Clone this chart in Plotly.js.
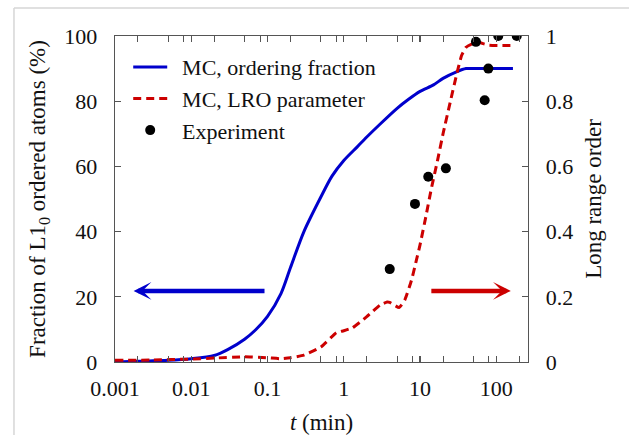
<!DOCTYPE html>
<html>
<head>
<meta charset="utf-8">
<script src="https://cdn.plot.ly/plotly-3.0.1.min.js"></script>
<style>html,body{margin:0;padding:0;background:#fff;}#chart{width:629px;height:435px;}</style>
</head>
<body>
<div id="chart"></div>
<script>
// MC, ordering fraction (left axis, %)
const tOrder = [0.001,0.002,0.005,0.01,0.02,0.03,0.05,0.07,0.1,0.15,0.2,0.3,0.5,0.7,1,1.5,2,3,5,7,10,15,20,30,40,50,70,100,165];
const orderFrac = [0,0.2,0.5,1,2,3.8,7,9.9,14,21,29,40,50.6,57,61.8,66,69,73,77.8,80.5,83,85,87,89,90,90,90,90,90];

// MC, LRO parameter (right axis)
const tLRO = [0.001,0.003,0.01,0.02,0.05,0.1,0.15,0.2,0.3,0.5,0.8,1,1.3,2,3,3.7,4,5.3,6.3,7.7,8.9,10,12,14,17,20,25,30,35,40,50,60,70,80,100,165];
const lro = [0.005,0.006,0.009,0.012,0.016,0.013,0.01,0.013,0.021,0.046,0.09,0.096,0.105,0.139,0.175,0.184,0.183,0.167,0.19,0.25,0.31,0.36,0.45,0.53,0.62,0.70,0.80,0.88,0.94,0.965,0.978,0.98,0.975,0.972,0.971,0.971];

// Experiment (right axis)
const tExp = [4.0,8.57,12.8,21.8,54,70.3,78.5,106,185];
const expVal = [0.285,0.485,0.568,0.594,0.982,0.803,0.9,1.0,1.0];

// Axis ticks
const xTickVals = [0.001,0.01,0.1,1,10,100];
const xTickText = ['0.001','0.01','0.1','1','10','100'];
const xMinor = [0.002,0.005,0.008,0.02,0.05,0.08,0.2,0.5,0.8,2,5,8,20,50,80,200];

const FONT = '"Liberation Serif", "Times New Roman", serif';
const AX = '#555';
const BLUE = '#0000cc';
const RED = '#cc0000';
const GAP = '\u00a0\u2009';

const traces = [
  {x: tOrder, y: orderFrac, type: 'scatter', mode: 'lines', name: GAP + 'MC, ordering fraction',
   line: {color: BLUE, width: 3, shape: 'spline', smoothing: 0.8}, yaxis: 'y'},
  {x: tLRO, y: lro, type: 'scatter', mode: 'lines', name: GAP + 'MC, LRO parameter',
   line: {color: RED, width: 3, dash: '8px,5px', shape: 'spline', smoothing: 0.4}, yaxis: 'y2'},
  {x: tExp, y: expVal, type: 'scatter', mode: 'markers', name: GAP + 'Experiment',
   marker: {color: '#000', size: 10}, yaxis: 'y2'}
];

const layout = {
  width: 629, height: 435,
  margin: {l: 115, r: 101, t: 36, b: 73},
  paper_bgcolor: '#fff', plot_bgcolor: '#fff',
  font: {family: FONT, size: 22, color: '#111'},
  showlegend: true,
  legend: {x: 0.032, y: 0.969, xanchor: 'left', yanchor: 'top', bgcolor: 'rgba(0,0,0,0)',
           font: {family: FONT, size: 22, color: '#111'}, itemwidth: 34, tracegroupgap: 0},
  xaxis: {type: 'log', range: [-3, 2.415], showgrid: false, zeroline: false,
          showline: true, linecolor: AX, linewidth: 1.3, mirror: 'allticks',
          ticks: 'inside', ticklen: 6, tickcolor: AX, tickwidth: 1.2,
          tickvals: xTickVals, ticktext: xTickText, ticklabelstandoff: 6,
          minor: {tickvals: xMinor, ticks: 'inside', ticklen: 3, tickcolor: AX, tickwidth: 1},
          title: {text: '<i>t</i> (min)', font: {family: FONT, size: 23, color: '#111'}, standoff: 14}},
  yaxis: {range: [0, 100], dtick: 20, showgrid: false, zeroline: false,
          showline: true, linecolor: AX, linewidth: 1.3, mirror: true,
          ticks: 'inside', ticklen: 6, tickcolor: AX, tickwidth: 1.2, ticklabelstandoff: 12,
          title: {text: 'Fraction of L1<sub>0</sub> ordered atoms (%)', font: {family: FONT, size: 23, color: '#111'}, standoff: 12}},
  yaxis2: {range: [0, 1], dtick: 0.2, overlaying: 'y', side: 'right', showgrid: false, zeroline: false,
           showline: true, linecolor: AX, linewidth: 1.3,
           ticks: 'inside', ticklen: 6, tickcolor: AX, tickwidth: 1.2, ticklabelstandoff: 12,
           title: {text: 'Long range order', font: {family: FONT, size: 23, color: '#111'}, standoff: 12}},
  annotations: [
    {x: -2.756, y: 21.8, xref: 'x', yref: 'y', ax: -1.02, ay: 21.8, axref: 'x', ayref: 'y',
     text: '', showarrow: true, arrowhead: 3, arrowwidth: 4.5, arrowsize: 0.66, arrowcolor: BLUE},
    {x: 2.19, y: 21.8, xref: 'x', yref: 'y', ax: 1.128, ay: 21.8, axref: 'x', ayref: 'y',
     text: '', showarrow: true, arrowhead: 3, arrowwidth: 4.5, arrowsize: 0.66, arrowcolor: RED}
  ],
  shapes: [
    {type: 'line', xref: 'paper', yref: 'paper', x0: -0.2446, x1: 1.25, y0: 1.0859, y1: 1.0859,
     line: {color: '#d6d6d6', width: 1.5}},
    {type: 'line', xref: 'paper', yref: 'paper', x0: -0.2446, x1: -0.2446, y0: 1.0859, y1: -0.25,
     line: {color: '#d6d6d6', width: 1.5}}
  ]
};

Plotly.newPlot('chart', traces, layout, {displayModeBar: false, staticPlot: true});
</script>
</body>
</html>
